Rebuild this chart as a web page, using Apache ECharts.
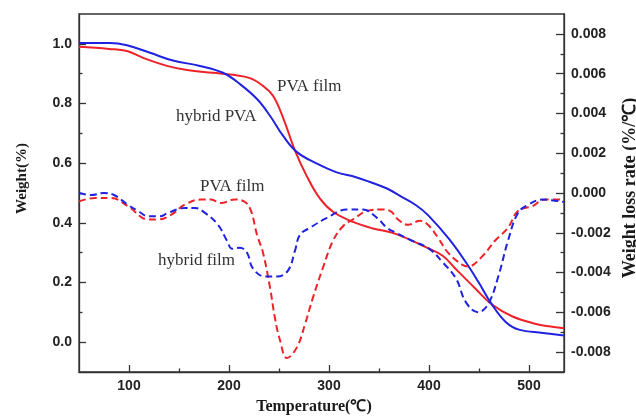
<!DOCTYPE html>
<html><head><meta charset="utf-8">
<script src="https://cdn.jsdelivr.net/npm/echarts@6/dist/echarts.min.js"></script>
<style>html,body{margin:0;padding:0;background:#fff}#c{width:636px;height:416px}</style>
</head><body><div id="c"></div><script>
// ---- data ----
const pvaTgT = [50, 80, 98, 114, 138, 158, 184, 204, 221, 234, 244, 254, 266, 278, 291, 304, 324, 344, 366, 399, 414, 426, 446, 463, 483, 506, 520, 535];
const pvaTgW = [0.990, 0.983, 0.976, 0.953, 0.926, 0.912, 0.903, 0.896, 0.885, 0.859, 0.826, 0.753, 0.642, 0.555, 0.481, 0.437, 0.403, 0.381, 0.364, 0.315, 0.289, 0.248, 0.181, 0.126, 0.087, 0.062, 0.053, 0.047];

const hybridTgT = [50, 81, 98, 121, 144, 171, 194, 211, 228, 241, 254, 268, 287, 307, 327, 341, 358, 371, 387, 399, 420, 437, 449, 463, 477, 490, 514, 535];
const hybridTgW = [1.003, 1.003, 0.995, 0.970, 0.944, 0.926, 0.903, 0.865, 0.815, 0.759, 0.692, 0.637, 0.600, 0.570, 0.553, 0.537, 0.515, 0.490, 0.459, 0.426, 0.346, 0.267, 0.204, 0.126, 0.067, 0.042, 0.031, 0.022];

const pvaDtgT = [50, 66, 82, 99, 119, 129, 142, 156, 172, 182, 192, 206, 216, 222, 228, 234, 241, 246, 251, 258, 268, 276, 284, 294, 304, 314, 324, 338, 351, 361, 369, 379, 391, 399, 409, 419, 433, 439, 453, 466, 479, 489, 503, 516, 535];
const pvaDtgD = [-0.00042, -0.00025, -0.00025, -0.00067, -0.00133, -0.00133, -0.00110, -0.00058, -0.00033, -0.00033, -0.00050, -0.00033, -0.00045, -0.00090, -0.00210, -0.00300, -0.00475, -0.00630, -0.00740, -0.00830, -0.00775, -0.00660, -0.00525, -0.00375, -0.00240, -0.00167, -0.00133, -0.00090, -0.00083, -0.00090, -0.00133, -0.00160, -0.00140, -0.00160, -0.00225, -0.00300, -0.00360, -0.00370, -0.00320, -0.00240, -0.00175, -0.00090, -0.00067, -0.00033, -0.00033];

const hybridDtgT = [50, 62, 75, 85, 99, 109, 119, 131, 139, 156, 166, 176, 189, 198, 203, 211, 218, 224, 236, 248, 259, 266, 271, 281, 298, 318, 334, 348, 358, 367, 383, 400, 414, 427, 437, 449, 459, 469, 479, 489, 499, 513, 535];
const hybridDtgD = [0.00000, -0.00010, 0.00000, -0.00010, -0.00060, -0.00090, -0.00117, -0.00117, -0.00100, -0.00075, -0.00075, -0.00100, -0.00160, -0.00240, -0.00280, -0.00275, -0.00300, -0.00380, -0.00420, -0.00420, -0.00390, -0.00290, -0.00210, -0.00175, -0.00125, -0.00083, -0.00083, -0.00125, -0.00175, -0.00200, -0.00240, -0.00280, -0.00350, -0.00430, -0.00550, -0.00600, -0.00560, -0.00425, -0.00240, -0.00100, -0.00060, -0.00033, -0.00045];

const xMajor = [100, 200, 300, 400, 500];
const xMinor = [150, 250, 350, 450];
const yLeftMajor = [0.0, 0.2, 0.4, 0.6, 0.8, 1.0];
const yLeftMinor = [0.1, 0.3, 0.5, 0.7, 0.9];
const yRightMajor = [-0.008, -0.006, -0.004, -0.002, 0.000, 0.002, 0.004, 0.006, 0.008];
const yRightMinor = [-0.007, -0.005, -0.003, -0.001, 0.001, 0.003, 0.005, 0.007];

const annotations = ['PVA film', 'hybrid PVA', 'PVA film', 'hybrid film'];
const titles = { x: 'Temperature(℃)', yLeft: 'Weight(%)', yRight: 'Weight loss rate (%/℃)' };

// ---- chart ----
const zip = (a, b) => a.map((t, i) => [t, b[i]]);
const RED = '#ee2228';
const BLUE = '#1f22e0';
const AX = '#333333';
const LBL = { color: '#222', fontFamily: '"Liberation Sans", Arial, sans-serif', fontWeight: 'bold', fontSize: 14 };
const axLine = { show: true, onZero: false, lineStyle: { color: AX, width: 1.3 } };
const noLine = { show: false, onZero: false };
const noSplit = { show: false };

const chart = echarts.init(document.getElementById('c'), null, { renderer: 'canvas' });
const ann = (txt, x, y) => ({
  type: 'text', x: x, y: y, silent: true,
  style: { text: txt, font: '17px "Liberation Serif", "Times New Roman", serif', fill: '#333',
           align: 'left', verticalAlign: 'middle', textAlign: 'left', textVerticalAlign: 'middle' }
});
const ttl = (txt, x, y, size, rot) => ({
  type: 'text', x: x, y: y, rotation: rot, silent: true,
  style: { text: txt, font: 'bold ' + size + 'px "Liberation Serif", "Times New Roman", serif', fill: '#1a1a1a',
           align: 'center', verticalAlign: 'middle', textAlign: 'center', textVerticalAlign: 'middle' }
});

chart.setOption({
  animation: false,
  grid: { left: 79, right: 72, top: 14, bottom: 44, show: true, borderColor: AX, borderWidth: 1.3,
          backgroundColor: 'transparent', containLabel: false, outerBoundsMode: 'none' },
  xAxis: [
    { type: 'value', min: 50, max: 535, position: 'bottom', axisLine: axLine,
      axisTick: { show: true, inside: true, length: 7, customValues: xMajor, lineStyle: { color: AX, width: 1.3 } },
      axisLabel: Object.assign({ margin: 7, customValues: xMajor, formatter: v => String(v) }, LBL),
      splitLine: noSplit },
    { type: 'value', min: 50, max: 535, position: 'bottom', axisLine: noLine,
      axisTick: { show: true, inside: true, length: 3.5, customValues: xMinor, lineStyle: { color: AX, width: 1.3 } },
      axisLabel: { show: false }, splitLine: noSplit }
  ],
  yAxis: [
    { type: 'value', min: -0.1, max: 1.1, position: 'left', axisLine: axLine,
      axisTick: { show: true, inside: true, length: 7, customValues: yLeftMajor, lineStyle: { color: AX, width: 1.3 } },
      axisLabel: Object.assign({ margin: 7, customValues: yLeftMajor, formatter: v => v.toFixed(1) }, LBL),
      splitLine: noSplit },
    { type: 'value', min: -0.009, max: 0.009, position: 'right', axisLine: axLine,
      axisTick: { show: true, inside: true, length: 8, customValues: yRightMajor, lineStyle: { color: AX, width: 1.3 } },
      axisLabel: Object.assign({ margin: 7, customValues: yRightMajor, formatter: v => v.toFixed(3) }, LBL),
      splitLine: noSplit },
    { type: 'value', min: -0.1, max: 1.1, position: 'left', axisLine: noLine,
      axisTick: { show: true, inside: true, length: 3.5, customValues: yLeftMinor, lineStyle: { color: AX, width: 1.3 } },
      axisLabel: { show: false }, splitLine: noSplit },
    { type: 'value', min: -0.009, max: 0.009, position: 'right', axisLine: noLine,
      axisTick: { show: true, inside: true, length: 3.5, customValues: yRightMinor, lineStyle: { color: AX, width: 1.3 } },
      axisLabel: { show: false }, splitLine: noSplit }
  ],
  series: [
    { type: 'line', name: 'PVA film', xAxisIndex: 0, yAxisIndex: 0, data: zip(pvaTgT, pvaTgW),
      symbol: 'none', smooth: 0.4, lineStyle: { color: RED, width: 2 } },
    { type: 'line', name: 'hybrid PVA', xAxisIndex: 0, yAxisIndex: 0, data: zip(hybridTgT, hybridTgW),
      symbol: 'none', smooth: 0.4, lineStyle: { color: BLUE, width: 2 } },
    { type: 'line', name: 'PVA film DTG', xAxisIndex: 0, yAxisIndex: 1, data: zip(pvaDtgT, pvaDtgD),
      symbol: 'none', smooth: 0.4, lineStyle: { color: RED, width: 2, type: [7, 4] } },
    { type: 'line', name: 'hybrid film DTG', xAxisIndex: 0, yAxisIndex: 1, data: zip(hybridDtgT, hybridDtgD),
      symbol: 'none', smooth: 0.4, lineStyle: { color: BLUE, width: 2, type: [7, 4] } }
  ],
  graphic: [
    ann(annotations[0], 277, 87),
    ann(annotations[1], 176, 117),
    ann(annotations[2], 200, 187),
    ann(annotations[3], 158, 261),
    ttl(titles.x, 314, 407, 16, 0),
    ttl(titles.yLeft, 22, 178.5, 15, Math.PI / 2),
    ttl(titles.yRight, 630, 188, 18, Math.PI / 2)
  ]
});
</script></body></html>
